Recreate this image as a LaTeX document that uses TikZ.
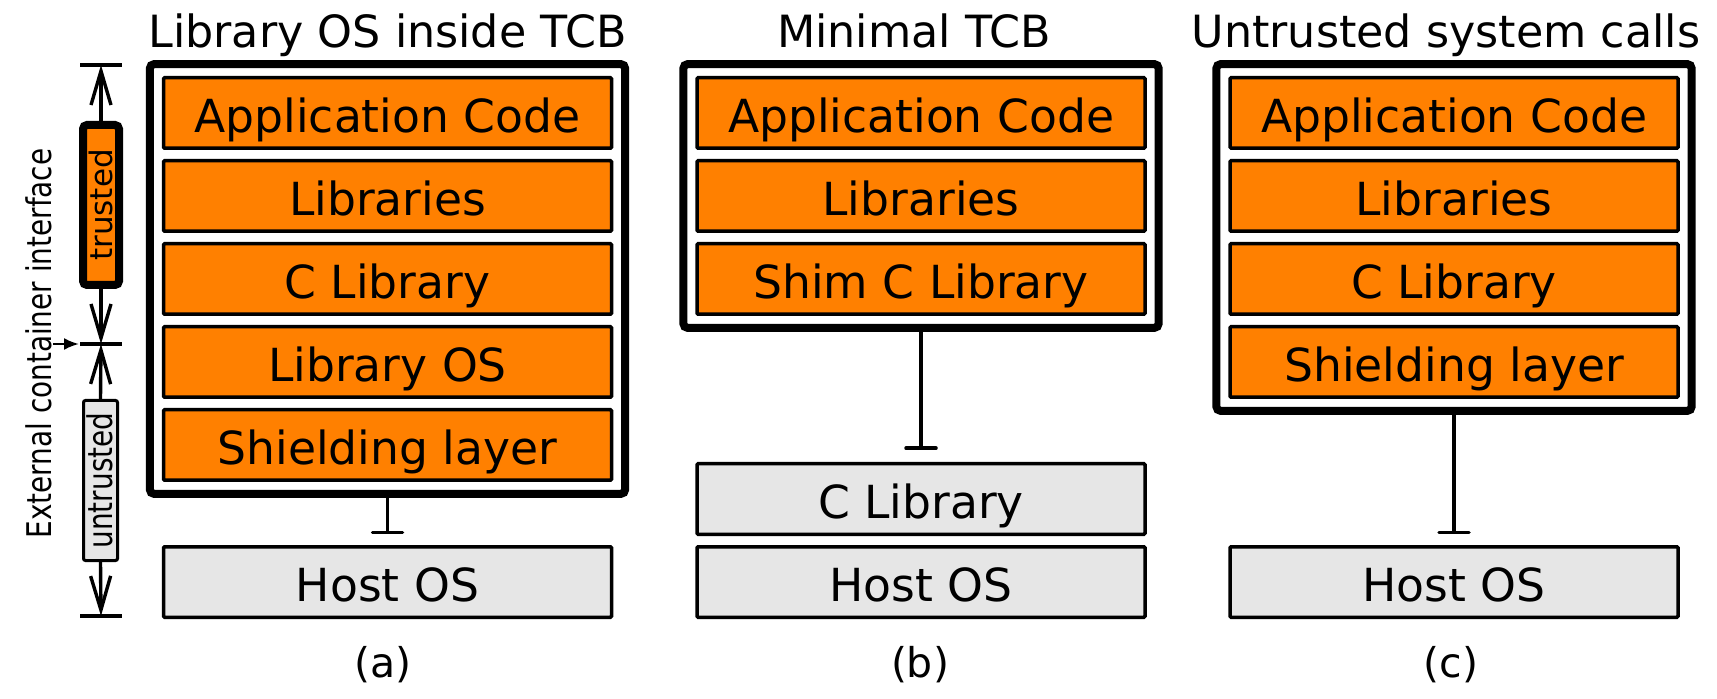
\documentclass[tikz,border=0pt]{standalone}
\usepackage{fontspec}
\setmainfont{DejaVu Sans}
\newfontfamily\narrowfont[FakeStretch=0.82]{DejaVu Sans}
\usetikzlibrary{arrows.meta,fit}
\definecolor{org}{RGB}{255,128,0}
\definecolor{lgray}{RGB}{230,230,230}
\tikzset{
  layer/.style={draw, line width=1.75pt, fill=org, minimum width=224pt, minimum height=35.25pt,
    inner sep=0pt, rounded corners=0.6pt, font=\fontsize{22.8}{26}\selectfont, text height=19.5pt, text depth=0pt},
  ulayer/.style={layer, fill=lgray},
  tcb/.style={draw, line width=4pt, rounded corners=2pt, inner sep=5.9pt},
  title/.style={anchor=base, inner sep=0pt, font=\fontsize{22.2}{26}\selectfont},
  sublabel/.style={anchor=base, inner sep=0pt, font=\fontsize{20.5}{24}\selectfont},
  tbar/.style={line width=1.75pt, -{Bar[width=15pt, line cap=round]}},
  small/.style={font=\narrowfont\fontsize{17}{19}\selectfont, text height=12.4pt, text depth=0pt, inner sep=0pt},
  barb/.style={line width=1.7pt, -{Straight Barb[length=17pt, width=10pt]}},
  tick/.style={line width=1.75pt},
}
\begin{document}
\begin{tikzpicture}[x=0.5pt, y=-0.5pt]
\useasboundingbox (0,0) rectangle (1717,699);

% ---------- Panel (a) ----------
\node[title] (ta) at (387.5,48) {Library OS inside TCB};
\node[layer] (a1) at (387.5,113) {Application Code};
\node[layer] (a2) at (387.5,196) {Libraries};
\node[layer] (a3) at (387.5,279) {C Library};
\node[layer] (a4) at (387.5,362) {Library OS};
\node[layer] (a5) at (387.5,445) {Shielding layer};
\node[tcb, fit=(a1)(a5)] (tcbA) {};
\node[ulayer] (a6) at (387.5,582) {Host OS};
\coordinate (barA) at (387.5,534);
\draw[tbar] (tcbA.south) -- (barA);
\node[sublabel] (la) at (383,677) {(a)};

% ---------- Panel (b) ----------
\node[title] (tb) at (914,48) {Minimal TCB};
\node[layer] (b1) at (921,113) {Application Code};
\node[layer] (b2) at (921,196) {Libraries};
\node[layer] (b3) at (921,279) {Shim C Library};
\node[tcb, fit=(b1)(b3)] (tcbB) {};
\node[ulayer] (b4) at (921,499) {C Library};
\node[ulayer] (b5) at (921,582) {Host OS};
\coordinate (barB) at (921,450);
\draw[tbar] (tcbB.south) -- (barB);
\node[sublabel] (lb) at (920,677) {(b)};

% ---------- Panel (c) ----------
\node[title] (tc) at (1446,48) {Untrusted system calls};
\node[layer] (c1) at (1454,113) {Application Code};
\node[layer] (c2) at (1454,196) {Libraries};
\node[layer] (c3) at (1454,279) {C Library};
\node[layer] (c4) at (1454,362) {Shielding layer};
\node[tcb, fit=(c1)(c4)] (tcbC) {};
\node[ulayer] (c5) at (1454,582) {Host OS};
\coordinate (barC) at (1454,534);
\draw[tbar] (tcbC.south) -- (barC);
\node[sublabel] (lc) at (1451,677) {(c)};

% ---------- Left annotation ----------
\coordinate (t1) at (101,65);
\coordinate (t2) at (101,344);
\coordinate (t3) at (101,616);
\foreach \t in {t1,t2,t3}
  \draw[tick] ([xshift=-10.5pt]\t) -- ([xshift=10.5pt]\t);

\node[rotate=90, draw, line width=4pt, fill=org, rounded corners=2pt,
      minimum width=80pt, minimum height=18pt, small, font=\fontsize{15.5}{17}\selectfont, text height=11.2pt] (trusted) at (101,205) {trusted};
\node[rotate=90, draw, line width=1.5pt, fill=lgray, rounded corners=1pt,
      minimum width=80pt, minimum height=17pt, small] (untrusted) at (100.5,480.5) {untrusted};

\draw[barb] (trusted.east) -- (t1);
\draw[barb] (trusted.west) -- (t2);
\draw[barb] (untrusted.east) -- (t2);
\draw[barb] (untrusted.west) -- (t3);

\node[rotate=90, small] (ext) at (39.5,343.5) {External container interface};
\coordinate (pa) at (53,344);
\coordinate (pb) at (79,344);
\draw[line width=1.2pt, -{Latex[length=7.5pt, width=6pt]}] (pa) -- (pb);
\end{tikzpicture}
\end{document}
